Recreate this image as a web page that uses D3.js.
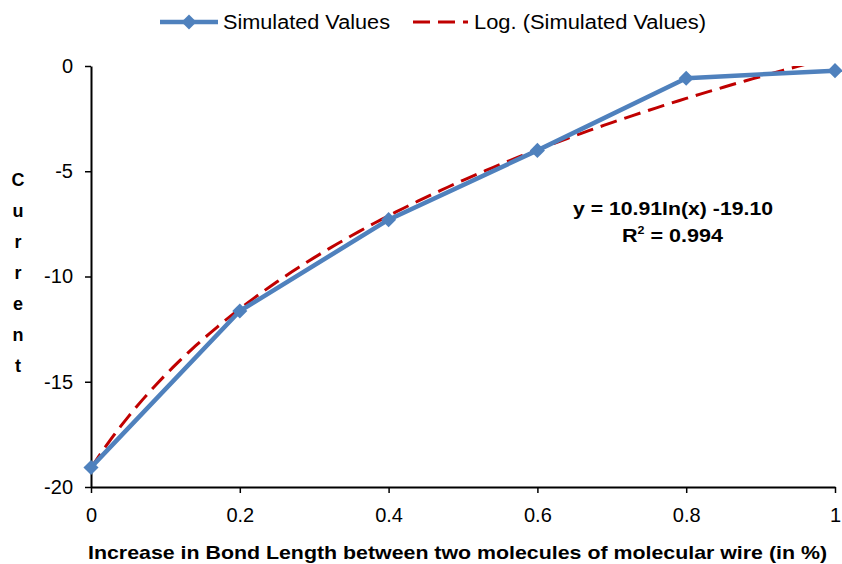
<!DOCTYPE html>
<html>
<head>
<meta charset="utf-8">
<script src="https://cdn.jsdelivr.net/npm/d3@7"></script>
<style>
  body { margin: 0; background: #fff; }
  svg { display: block; font-family: "Liberation Sans", Arial, sans-serif; }
</style>
</head>
<body>
<div class="chart"></div>
<script>
// Chart size
const width = 842;
const height = 564;
const margin = { top: 66, right: 7, bottom: 77, left: 91 };

// Data
const bondIncrease = [0, 0.2, 0.4, 0.6, 0.8, 1];
const current = [-19.07, -11.64, -7.30, -4.01, -0.58, -0.22];
const xTicks = [0, 0.2, 0.4, 0.6, 0.8, 1];
const yTicks = [0, -5, -10, -15, -20];
const seriesNames = ['Simulated Values', 'Log. (Simulated Values)'];
const axisTitleX = 'Increase in Bond Length between two molecules of molecular wire (in %)';
const axisTitleY = 'Current';
// Log trendline coefficients (Excel, x = point index 1..6)
const trendA = 10.91;
const trendB = -19.10;
const trendR2 = '0.994';

const blue = '#4f81bd';
const red = '#c00000';

const svg = d3.select('.chart')
  .append('svg')
  .attr('width', width)
  .attr('height', height);

const x = d3.scaleLinear()
  .domain([0, 1])
  .range([margin.left, width - margin.right]);

const y = d3.scaleLinear()
  .domain([-20, 0])
  .range([height - margin.bottom, margin.top]);

// clip for the trendline
svg.append('clipPath').attr('id', 'plot')
  .append('rect')
  .attr('x', x(0)).attr('y', y(0))
  .attr('width', x(1) - x(0)).attr('height', y(-20) - y(0));

// Axes
svg.append('g')
  .attr('transform', `translate(0, ${y(-20)})`)
  .call(d3.axisBottom(x).tickValues(xTicks).tickFormat(d => String(d)).tickSizeInner(6).tickSizeOuter(0).tickPadding(15))
  .call(g => g.select('.domain').attr('stroke-width', 2))
  .call(g => g.selectAll('.tick line').attr('stroke-width', 1.5))
  .call(g => g.selectAll('text').attr('font-size', 20).attr('fill', '#000').attr('font-family', null));

svg.append('g')
  .attr('transform', `translate(${x(0)}, 0)`)
  .call(d3.axisLeft(y).tickValues(yTicks).tickFormat(d => String(d)).tickSizeInner(6).tickSizeOuter(0).tickPadding(12))
  .call(g => g.select('.domain').attr('stroke-width', 2))
  .call(g => g.selectAll('.tick line').attr('stroke-width', 1.5))
  .call(g => g.selectAll('text').attr('font-size', 20).attr('fill', '#000').attr('font-family', null));

// Axis titles
svg.append('text')
  .attr('x', 88)
  .attr('y', 559)
  .attr('font-size', 18.5)
  .attr('font-weight', 'bold')
  .attr('textLength', 739)
  .attr('lengthAdjust', 'spacingAndGlyphs')
  .text(axisTitleX);

svg.append('g')
  .attr('font-size', 18)
  .attr('font-weight', 'bold')
  .attr('text-anchor', 'middle')
  .selectAll('text')
  .data(axisTitleY.split(''))
  .join('text')
    .attr('x', 18)
    .attr('y', (d, i) => 186 + i * 31)
    .text(d => d);

// Trendline
const trendPts = d3.range(0, 1.0001, 0.01).map(v => [v, trendA * Math.log(1 + v * 5) + trendB]);
svg.append('path')
  .datum(trendPts)
  .attr('clip-path', 'url(#plot)')
  .attr('fill', 'none')
  .attr('stroke', red)
  .attr('stroke-width', 3)
  .attr('stroke-dasharray', '17,8')
  .attr('d', d3.line().x(d => x(d[0])).y(d => y(d[1])));

// Series
const pts = bondIncrease.map((b, i) => [b, current[i]]);
svg.append('path')
  .datum(pts)
  .attr('fill', 'none')
  .attr('stroke', blue)
  .attr('stroke-width', 4.5)
  .attr('stroke-linejoin', 'round')
  .attr('d', d3.line().x(d => x(d[0])).y(d => y(d[1])));

const diamond = d3.symbol().type(d3.symbolDiamond2).size(145);
svg.append('g')
  .selectAll('path')
  .data(pts)
  .join('path')
    .attr('transform', d => `translate(${x(d[0])}, ${y(d[1])})`)
    .attr('fill', blue)
    .attr('d', diamond);

// Equation
const eq = svg.append('g')
  .attr('font-size', 19)
  .attr('font-weight', 'bold');
eq.append('text')
  .attr('x', 573).attr('y', 215)
  .attr('textLength', 200)
  .attr('lengthAdjust', 'spacingAndGlyphs')
  .text(`y = ${trendA}ln(x) ${trendB.toFixed(2)}`);
const r2 = eq.append('text')
  .attr('x', 622).attr('y', 242)
  .attr('textLength', 101)
  .attr('lengthAdjust', 'spacingAndGlyphs');
r2.append('tspan').text('R');
r2.append('tspan').attr('dy', -8).attr('font-size', 11).text('2');
r2.append('tspan').attr('dy', 8).text(` = ${trendR2}`);

// Legend
const legend = svg.append('g').attr('font-size', 20);
legend.append('line')
  .attr('x1', 160).attr('x2', 218).attr('y1', 22).attr('y2', 22)
  .attr('stroke', blue).attr('stroke-width', 4.5);
legend.append('path')
  .attr('transform', 'translate(189, 22)')
  .attr('fill', blue)
  .attr('d', diamond);
legend.append('text')
  .attr('x', 223).attr('y', 29)
  .attr('textLength', 167)
  .attr('lengthAdjust', 'spacingAndGlyphs')
  .text(seriesNames[0]);
legend.append('line')
  .attr('x1', 413).attr('x2', 468).attr('y1', 22).attr('y2', 22)
  .attr('stroke', red).attr('stroke-width', 3)
  .attr('stroke-dasharray', '17,8');
legend.append('text')
  .attr('x', 474).attr('y', 29)
  .attr('textLength', 232)
  .attr('lengthAdjust', 'spacingAndGlyphs')
  .text(seriesNames[1]);
</script>
</body>
</html>
